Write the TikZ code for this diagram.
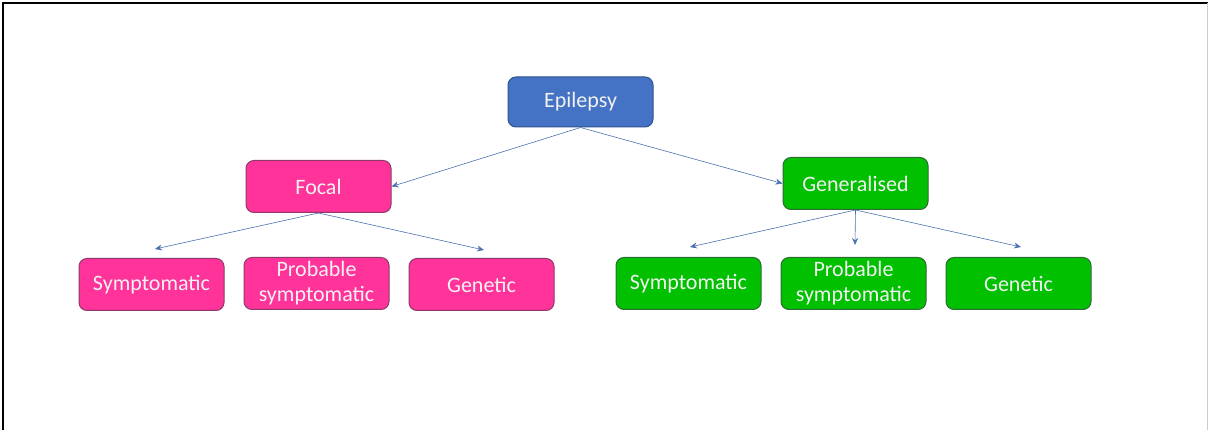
\documentclass[tikz,border=0pt]{standalone}
\usepackage{fontspec}
\setmainfont{Carlito}
\usetikzlibrary{arrows.meta}
\definecolor{epiblue}{HTML}{4472C4}
\definecolor{epiblueline}{HTML}{2F528F}
\definecolor{focpink}{HTML}{FF3399}
\definecolor{focpinkline}{HTML}{8C3A6A}
\definecolor{gengreen}{HTML}{00C000}
\definecolor{gengreenline}{HTML}{2E6B35}
\definecolor{linkblue}{HTML}{4A72B0}
\begin{document}
\begin{tikzpicture}[x=1pt,y=-1pt,
  box/.style={rounded corners=8pt, line width=1pt, minimum width=145pt, minimum height=52pt,
    inner sep=0pt, align=center, text=white!95!black, font=\fontsize{22}{25}\selectfont},
  bluebox/.style={box, draw=epiblueline, fill=epiblue, minimum height=50pt},
  pinkbox/.style={box, draw=focpinkline, fill=focpink},
  greenbox/.style={box, draw=gengreenline, fill=gengreen},
  link/.style={draw=linkblue, line width=0.6pt, -{Stealth[length=7pt,width=6pt]}}]
  % page and frame
  \useasboundingbox (0,0) rectangle (1208,430);
  \fill[white] (0,0) rectangle (1208,430);
  \draw[line width=2pt] (3,430) -- (3,3) -- (1208,3);
  \draw[gray!40, line width=1pt] (1207,3) -- (1207,430);
  % nodes
  \node[bluebox] (epi) at (580.5,102) {Epilepsy};
  \node[pinkbox] (foc) at (318.5,186.5) {Focal};
  \node[greenbox] (gen) at (855.5,183.5) {Generalised};
  \node[pinkbox] (fsym) at (151.5,284.5) {Symptomatic};
  \node[pinkbox] (fprob) at (316.5,283.5) {Probable\\symptomatic};
  \node[pinkbox] (fgen) at (481.5,284.5) {Genetic};
  \node[greenbox] (gsym) at (688.5,283.5) {Symptomatic};
  \node[greenbox] (gprob) at (853.5,283.5) {Probable\\symptomatic};
  \node[greenbox] (ggen) at (1018.5,283.5) {Genetic};
  % connectors
  \coordinate (fsymtip) at (155,249);
  \coordinate (fgentip) at (484,250);
  \coordinate (gsymtip) at (690,247);
  \coordinate (gprobtip) at (855,245);
  \coordinate (ggentip) at (1021,247);
  \draw[link] (epi.south) -- (foc.east);
  \draw[link] (epi.south) -- (gen.west);
  \draw[link] (foc.south) -- (fsymtip);
  \draw[link] (foc.south) -- (fgentip);
  \draw[link] (gen.south) -- (gsymtip);
  \draw[link] (gen.south) -- (gprobtip);
  \draw[link] (gen.south) -- (ggentip);
\end{tikzpicture}
\end{document}
